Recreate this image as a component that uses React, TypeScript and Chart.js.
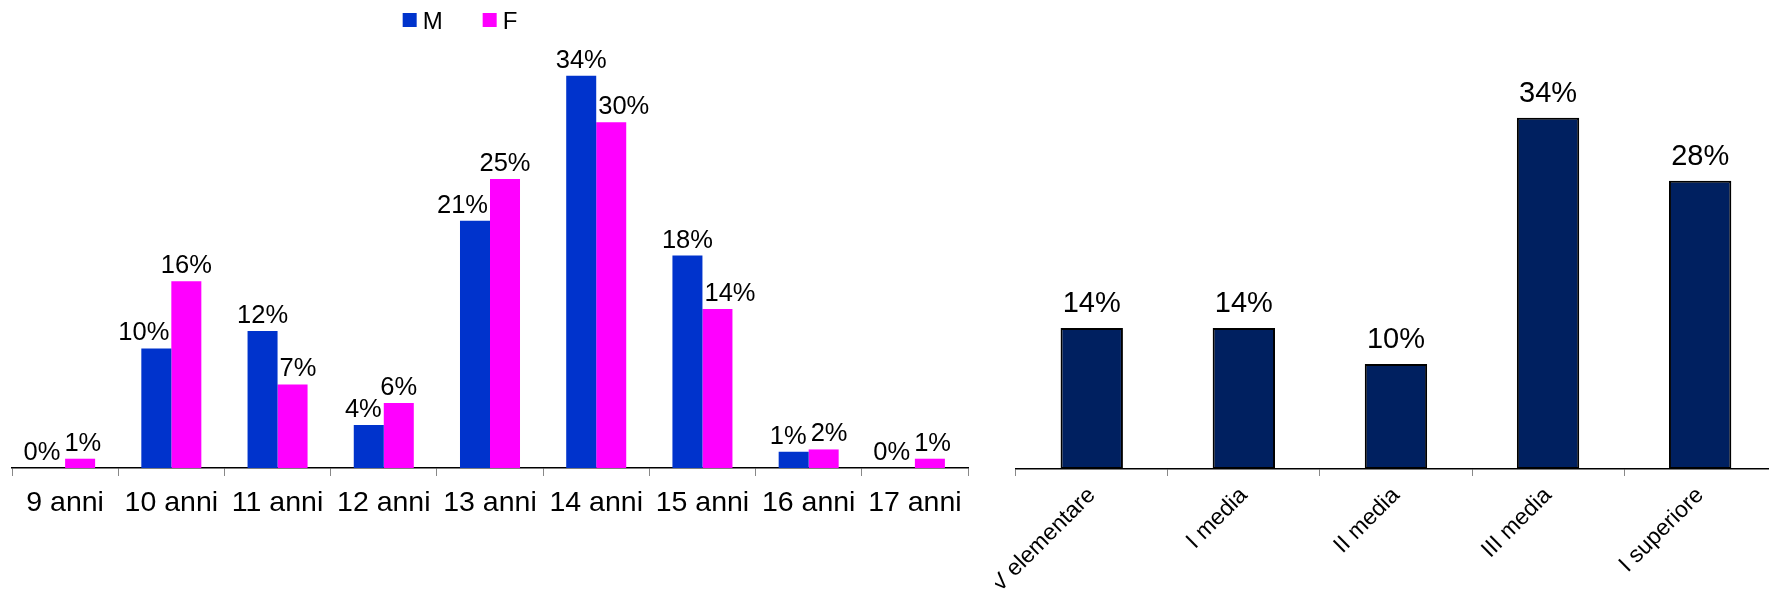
import React, { useEffect, useRef } from 'react';
import { Chart, registerables } from 'chart.js';

Chart.register(...registerables);

// ---------- data ----------
const ageCategories = ['9 anni', '10 anni', '11 anni', '12 anni', '13 anni', '14 anni', '15 anni', '16 anni', '17 anni'];
const seriesNames = ['M', 'F'];
const maleValues = [0, 10.3, 11.8, 3.7, 21.3, 33.8, 18.3, 1.4, 0];
const femaleValues = [0.8, 16.1, 7.2, 5.6, 24.9, 29.8, 13.7, 1.6, 0.8];

const classCategories = ['V elementare', 'I media', 'II media', 'III media', 'I superiore'];
const classValues = [13.7, 13.7, 10.2, 34.1, 28.0];

// ---------- styles ----------
const FONT = '"Liberation Sans", Arial, Helvetica, sans-serif';
const MALE_COLOR = '#0033CC';
const FEMALE_COLOR = '#FF00FF';
const CLASS_COLOR = '#002060';

const pct = (v: number) => `${Math.round(v)}%`;

// Data labels drawn above bars, nudged aside when they would collide
const barLabelsPlugin = {
  id: 'barLabels',
  afterDatasetsDraw(chart: any, _args: any, opts: any) {
    if (!opts || !opts.display) return;
    const { ctx } = chart;
    const size = opts.size || 24;
    const gap = opts.gap ?? 8;
    ctx.save();
    ctx.font = `${size}px ${FONT}`;
    ctx.fillStyle = '#000';
    ctx.textAlign = 'center';
    ctx.textBaseline = 'alphabetic';
    const capH = size * 0.72;
    const metas = chart.data.datasets.map((_: any, di: number) => chart.getDatasetMeta(di));
    const n = chart.data.labels.length;
    for (let i = 0; i < n; i++) {
      const items = metas.map((meta: any, di: number) => {
        const el = meta.data[i];
        const v = chart.data.datasets[di].data[i];
        const text = pct(v);
        const w = ctx.measureText(text).width;
        return {
          text,
          x: el.x,
          y: el.y - gap,
          w,
          barLeft: el.x - el.width / 2,
          barRight: el.x + el.width / 2,
          barTop: el.y,
        };
      });
      if (items.length === 2) {
        const [a, b] = items;
        if (a.y > b.barTop && a.x + a.w / 2 > b.barLeft) {
          a.x = b.barLeft - 2 - a.w / 2;
        }
        if (b.y > a.barTop && b.x - b.w / 2 < a.barRight) {
          b.x = a.barRight + 2 + b.w / 2;
        }
        const vOverlap = Math.abs(a.y - b.y) < capH + 2;
        const hOverlap = a.x + a.w / 2 + 4 - (b.x - b.w / 2);
        if (vOverlap && hOverlap > 0) {
          a.x -= hOverlap / 2;
          b.x += hOverlap / 2;
        }
      }
      items.forEach((it: any) => ctx.fillText(it.text, it.x, it.y));
    }
    ctx.restore();
  },
};

// Legend drawn inside the plot area
const insideLegendPlugin = {
  id: 'insideLegend',
  afterDraw(chart: any, _args: any, opts: any) {
    if (!opts || !opts.display) return;
    const { ctx } = chart;
    const size = opts.size || 22;
    const box = opts.box || 14;
    const itemGap = opts.itemGap || 40;
    const textGap = opts.textGap || 6;
    ctx.save();
    ctx.font = `${size}px ${FONT}`;
    const items = chart.data.datasets.map((d: any) => ({
      label: d.label,
      color: d.backgroundColor,
      w: box + textGap + ctx.measureText(d.label).width,
    }));
    const total = items.reduce((s: number, it: any) => s + it.w, 0) + itemGap * (items.length - 1);
    let x = opts.centerX - total / 2;
    const top = opts.top;
    ctx.textBaseline = 'alphabetic';
    ctx.textAlign = 'left';
    items.forEach((it: any) => {
      ctx.fillStyle = it.color;
      ctx.fillRect(x, top, box, box);
      ctx.fillStyle = '#000';
      ctx.fillText(it.label, x + box + textGap, top + box + 2);
      x += it.w + itemGap;
    });
    ctx.restore();
  },
};

function AgeChart() {
  const ref = useRef<HTMLCanvasElement | null>(null);
  useEffect(() => {
    if (!ref.current) return;
    const chart = new Chart(ref.current, {
      type: 'bar',
      data: {
        labels: ageCategories,
        datasets: [
          { label: seriesNames[0], data: maleValues, backgroundColor: MALE_COLOR, categoryPercentage: 0.565, barPercentage: 1 },
          { label: seriesNames[1], data: femaleValues, backgroundColor: FEMALE_COLOR, categoryPercentage: 0.565, barPercentage: 1 },
        ],
      },
      options: {
        responsive: false,
        animation: false,
        layout: { padding: { left: 12, right: 22, top: 20, bottom: 0 } },
        plugins: {
          legend: { display: false },
          tooltip: { enabled: false },
          barLabels: { display: true, size: 25.5, gap: 8 },
          insideLegend: { display: true, centerX: 460, top: 13, size: 24, box: 14, itemGap: 40, textGap: 6 },
        } as any,
        scales: {
          x: {
            offset: true,
            grid: { offset: true, drawOnChartArea: false, drawTicks: true, tickLength: 8, color: '#888', lineWidth: 1 },
            border: { display: true, color: '#000', width: 1.5 },
            ticks: { color: '#000', font: { family: FONT, size: 28.5 }, padding: 10, maxRotation: 0, minRotation: 0, autoSkip: false },
            afterFit: (s: any) => { s.height = 127; s.paddingLeft = 0; s.paddingRight = 0; },
          },
          y: { display: false, min: 0, max: 38.6 },
        },
      },
      plugins: [barLabelsPlugin, insideLegendPlugin],
    });
    return () => chart.destroy();
  }, []);
  return (
    <canvas ref={ref} width={990} height={595}
      style={{ position: 'absolute', left: 0, top: 0, width: 990, height: 595 }} />
  );
}

function ClassChart() {
  const ref = useRef<HTMLCanvasElement | null>(null);
  useEffect(() => {
    if (!ref.current) return;
    const chart = new Chart(ref.current, {
      type: 'bar',
      data: {
        labels: classCategories,
        datasets: [
          {
            label: 'Classe',
            data: classValues,
            backgroundColor: CLASS_COLOR,
            borderColor: '#000',
            borderWidth: 2,
            borderSkipped: false,
            categoryPercentage: 1,
            barPercentage: 0.41,
          },
        ],
      },
      options: {
        responsive: false,
        animation: false,
        layout: { padding: { left: 20.7, right: 18.8, top: 20, bottom: 0 } },
        plugins: {
          legend: { display: false },
          tooltip: { enabled: false },
          barLabels: { display: true, size: 29, gap: 16 },
        } as any,
        scales: {
          x: {
            offset: true,
            grid: { offset: true, drawOnChartArea: false, drawTicks: true, tickLength: 7, color: '#888', lineWidth: 1 },
            border: { display: true, color: '#000', width: 1.5 },
            ticks: { color: '#000', font: { family: FONT, size: 23 }, padding: 6, maxRotation: 45, minRotation: 45, autoSkip: false },
            afterFit: (s: any) => { s.height = 126; s.paddingLeft = 0; s.paddingRight = 0; },
          },
          y: { display: false, min: 0, max: 43.6 },
        },
      },
      plugins: [barLabelsPlugin],
    });
    return () => chart.destroy();
  }, []);
  return (
    <canvas ref={ref} width={800} height={595}
      style={{ position: 'absolute', left: 995, top: 0, width: 800, height: 595 }} />
  );
}

export default function App() {
  return (
    <div style={{ position: 'absolute', left: 0, top: 0, width: 1769, height: 595, overflow: 'hidden', background: '#fff' }}>
      <AgeChart />
      <ClassChart />
    </div>
  );
}
